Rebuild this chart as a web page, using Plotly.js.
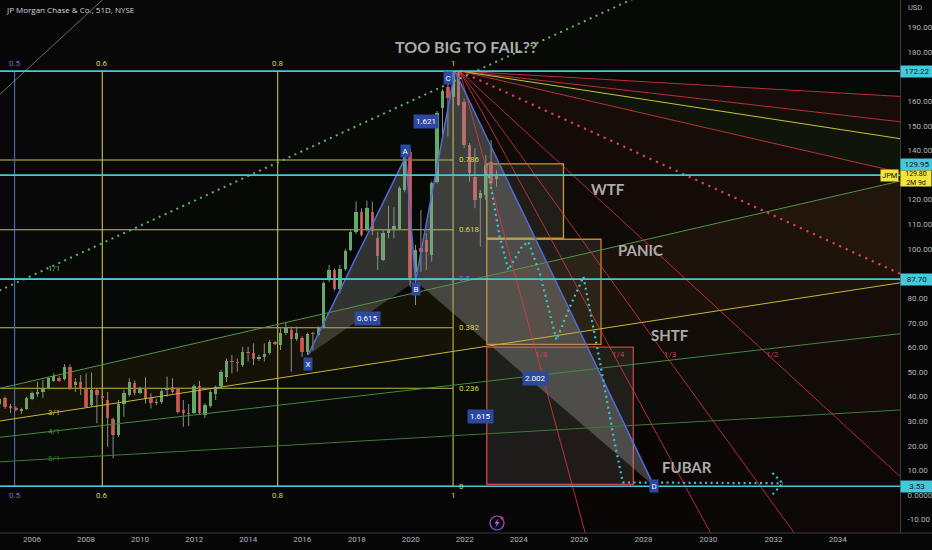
<!DOCTYPE html>
<html><head><meta charset="utf-8">
<script src="https://cdn.plot.ly/plotly-3.0.1.min.js"></script>
<style>html,body{margin:0;padding:0;background:#060606;}#chart{width:932px;height:550px;}</style>
</head><body><div id="chart"></div>
<script>
// ---- candle data (bar index, 51D bars) ----
const candleOpen  = [37.0,39.4,36.0,35.5,34.2,34.9,39.0,40.9,41.9,43.6,46.4,47.7,47.0,52.1,44.7,45.9,43.1,36.6,42.7,40.4,38.6,30.9,24.4,36.8,40.6,45.6,41.5,43.4,39.3,37.3,37.7,42.7,43.8,42.9,34.5,33.4,33.4,44.3,32.5,36.2,40.9,44.3,48.1,54.6,54.2,52.8,58.2,57.6,55.1,55.9,57.8,62.0,60.9,65.7,67.0,63.3,63.7,58.2,65.7,65.0,68.4,87.3,91.4,83.6,91.7,99.5,106.9,115.1,107.7,115.1,104.3,95.5,106.5,108.1,108.1,123.9,139.5,90.7,100.2,103.6,97.5,127.3,157.1,165.9,161.8,172.0,159.8,142.2,129.3,120.5,121.9,135.4,128.4];
const candleHigh  = [39.5,40.0,37.0,36.0,35.5,40.0,42.0,46.0,46.7,48.0,49.4,48.2,53.2,53.0,47.4,48.7,49.4,49.8,43.5,42.7,41.9,31.5,38.6,42.7,47.4,46.5,44.0,47.8,41.3,39.0,43.0,48.1,47.4,43.5,38.6,37.0,45.0,46.3,37.2,42.8,44.5,50.8,55.5,56.9,55.5,60.2,60.2,61.6,57.0,61.6,63.0,62.5,67.7,70.4,68.4,68.4,64.5,66.0,66.3,68.5,86.8,93.4,92.0,93.4,100.0,107.5,119.2,116.5,119.6,119.2,107.0,108.0,117.4,116.9,125.5,139.0,141.0,101.6,115.8,106.3,127.5,156.0,165.0,167.2,171.8,172.22,161.0,143.0,140.9,123.9,138.1,144.2,132.0];
const candleLow   = [36.5,35.0,33.3,34.0,32.9,34.5,38.5,39.9,39.4,43.0,46.0,46.0,46.5,42.7,41.9,40.6,35.5,36.0,29.1,38.5,19.6,14.9,23.5,31.8,40.0,40.5,41.0,37.2,35.2,36.5,37.0,39.9,41.5,33.0,27.7,28.0,33.0,32.5,31.2,35.5,38.6,43.5,45.9,49.4,50.1,52.0,54.2,52.8,54.5,54.2,57.0,60.8,58.9,65.0,50.1,62.5,56.2,56.9,58.9,64.5,67.8,86.5,83.0,81.9,91.0,99.0,106.0,105.0,107.0,105.6,91.4,95.0,104.3,104.3,107.5,123.0,84.6,77.2,90.7,91.4,94.8,126.5,146.3,145.6,160.0,158.0,141.0,127.3,116.5,100.9,120.0,125.9,125.2];
const candleClose = [39.0,35.7,35.3,34.5,34.9,39.5,41.4,41.9,43.6,47.5,48.5,46.4,52.1,43.6,45.9,43.6,35.9,42.7,40.6,39.3,31.2,24.4,36.8,41.3,45.8,41.3,43.4,38.9,37.3,37.9,42.3,43.4,42.0,33.8,33.2,32.9,44.3,33.2,36.6,42.0,43.8,50.1,54.4,54.0,53.5,58.2,57.6,55.3,55.9,57.3,62.3,61.3,65.7,67.7,63.3,65.9,58.2,65.3,65.3,68.0,86.0,91.4,83.6,91.7,99.2,106.9,115.1,105.6,116.5,107.4,97.1,106.5,107.9,109.3,124.6,138.1,88.0,99.5,98.8,98.8,126.7,155.1,164.1,161.2,171.3,158.4,142.2,130.7,119.8,122.6,134.1,126.6,129.8];

// ---- axis ticks ----
const yearTickIdx = [6,16,26,36.04,46.04,56.04,66.1,76.1,86.1,96.1,107.3,119.2,131.2,143.3,155.2];
const yearLabels  = ['2006','2008','2010','2012','2014','2016','2018','2020','2022','2024','2026','2028','2030','2032','2034'];
const priceTicks  = [-10,0,10,20,30,40,50,60,70,80,100,110,120,140,150,160,180,190];

// ---- horizontal price levels ----
const hLevels = [172.22,129.95,87.70,3.53];
const hLabels = ['172.22','129.95','87.70','3.53'];
const hLabelShift = [0,11,0,0];
const lastPrice = 129.80;

// ---- fib retracement / fib time ----
const fibLow = 3.53, fibHigh = 172.22;
const fibLevels = [0.786,0.618,0.5,0.382,0.236,0];
const fibLabels = ['0.786','0.618','0.5','0.382','0.236','0'];
const fibTimeStart = -78.44, fibTimeSpan = 162.4;
const fibTimeLevels = [0.5,0.6,0.8,1];
const fibTimeLabels = ['0.5','0.6','0.8','1'];

// ---- XABCD ----
const xabcdNames = ['X','A','B','C','D'];
const xabcdIdx   = [57.1,75.2,77.0,84.3,121.2];
const xabcdPrice = [56.9,137.5,86.9,172.22,3.53];
const ratioPairs = [[0,2],[1,3],[2,4],[0,4]];
const ratioTexts = ['0.615','1.621','2.002','1.615'];

// ---- gann fans ----
const gannUnit = 1.01; // price per bar for 1/1
const fan1Origin = [-78.8, 3.53];
const fan1Ratios = [2,1,0.5,1/3,0.25,0.125];
const fan1Names  = ['1/2','1/1','2/1','3/1','4/1','8/1'];
const fan2Origin = [85.2, 172.22];
const fan2Ratios = [0.125,0.25,1/3,0.5,1,2,3,4,8];
const fan2Names  = ['8/1','4/1','3/1','2/1','1/1','1/2','1/3','1/4','1/8'];

// ---- boxes ----
const boxNames = ['WTF','PANIC','SHTF'];
const boxI0 = [90.2,90.2,90.2];
const boxI1 = [104.4,111.35,117.33];
const boxTop = [134.5,103.9,60.1];
const boxBot = [104.3,61.2,4.35];
const boxColors = ['#c9b23a','#d8922e','#d84848'];
const noteTexts = ['WTF','PANIC','SHTF','FUBAR','TOO BIG TO FAIL??'];
const noteIdx   = [112.65,118.7,124.1,127.3,86.35];
const notePrice = [124.3,99.5,65.0,11.25,182.2];

// ---- projection path ----
const projIdx   = [90.6,92.6,94.2,96.7,97.9,100.1,103.1,105.6,108.1,111.2,113.9,115.4,145.0];
const projPrice = [129.6,104.9,91.4,100.9,102.9,89.4,63.0,76.5,88.7,53.5,21.0,5.1,4.75];

const X_RANGE = [0.056,166.72], Y_RANGE = [-15.44,201.1];
const FAR = 600;
const traces = [];
const shapes = [];
const ann = [];
const F = 'Roboto, sans-serif';

// fan fills
function fanLine(origin, r, dir, i){ return origin[1] + dir*gannUnit*r*(i-origin[0]); }
const fan1Fill = ['rgba(120,150,90,0.02)','rgba(70,110,40,0.035)','rgba(130,105,25,0.12)','rgba(70,90,30,0.08)','rgba(40,80,35,0.07)'];
for(let s=0;s<fan1Ratios.length-1;s++){
  traces.push({type:'scatter',mode:'none',fill:'toself',fillcolor:fan1Fill[s],hoverinfo:'skip',
    x:[fan1Origin[0],FAR,FAR],y:[fan1Origin[1],fanLine(fan1Origin,fan1Ratios[s],1,FAR),fanLine(fan1Origin,fan1Ratios[s+1],1,FAR)]});
}
const fan2Fill = ['rgba(190,40,50,0.09)','rgba(120,100,20,0.09)','rgba(70,100,30,0.15)','rgba(130,50,30,0.12)','rgba(120,30,30,0.10)','rgba(100,25,25,0.09)','rgba(90,20,20,0.08)','rgba(80,20,20,0.07)'];
for(let s=0;s<fan2Ratios.length-1;s++){
  traces.push({type:'scatter',mode:'none',fill:'toself',fillcolor:fan2Fill[s],hoverinfo:'skip',
    x:[fan2Origin[0],FAR,FAR],y:[fan2Origin[1],fanLine(fan2Origin,fan2Ratios[s],-1,FAR),fanLine(fan2Origin,fan2Ratios[s+1],-1,FAR)]});
}

// XABCD triangles
traces.push({type:'scatter',mode:'none',fill:'toself',fillcolor:'rgba(150,150,150,0.30)',hoverinfo:'skip',
  x:[xabcdIdx[0],xabcdIdx[1],xabcdIdx[2]],y:[xabcdPrice[0],xabcdPrice[1],xabcdPrice[2]]});
traces.push({type:'scatter',mode:'none',fill:'toself',fillcolor:'rgba(160,160,160,0.36)',hoverinfo:'skip',
  x:[xabcdIdx[2],xabcdIdx[3],xabcdIdx[4]],y:[xabcdPrice[2],xabcdPrice[3],xabcdPrice[4]]});

// candles
const idx = candleOpen.map((_,i)=>i);
const wx=[], wy=[];
idx.forEach(i=>{wx.push(i,i,null);wy.push(candleLow[i],candleHigh[i],null);});
traces.push({type:'scatter',mode:'lines',x:wx,y:wy,line:{color:'#8d8d8d',width:1},hoverinfo:'skip'});
traces.push({type:'bar',x:idx,base:idx.map(i=>Math.min(candleOpen[i],candleClose[i])),
  y:idx.map(i=>Math.max(Math.abs(candleClose[i]-candleOpen[i]),0.4)),width:0.66,
  marker:{color:idx.map(i=>candleClose[i]>=candleOpen[i]?'#56b95b':'#e23a3a'),line:{width:0}},hoverinfo:'skip'});

// fan lines
const fan1Colors = ['rgba(165,185,150,0.6)','#5dbb5a','#4f9745','#c8b63a','#3f8a40','#3b7b36'];
fan1Ratios.forEach((r,k)=>{
  traces.push({type:'scatter',mode:'lines',hoverinfo:'skip',x:[fan1Origin[0],FAR],y:[fan1Origin[1],fanLine(fan1Origin,r,1,FAR)],
    line:{color:fan1Colors[k],width:r===1?2:1,dash:r===1?'2px,4.5px':'solid'}});
  if(k>=1 && k!==2){
    const li = 10.1;
    ann.push({x:li,y:fanLine(fan1Origin,r,1,li),text:fan1Names[k],showarrow:false,yshift:r===1?-3:0,
      font:{family:F,size:8,color:fan1Colors[k]}});
  }
});
fan2Ratios.forEach((r,k)=>{
  const col = r===1/3?'#c8c03e':(r===1?'#e0404f':'rgba(225,55,70,0.8)');
  traces.push({type:'scatter',mode:'lines',hoverinfo:'skip',x:[fan2Origin[0],FAR],y:[fan2Origin[1],fanLine(fan2Origin,r,-1,FAR)],
    line:{color:col,width:r===1?2.2:1,dash:r===1?'2.2px,5px':'solid'}});
  if(r>1){
    const p = 57; const li = fan2Origin[0] + (fan2Origin[1]-p)/(gannUnit*r);
    ann.push({x:li,y:p,text:fan2Names[k],showarrow:false,xshift:5,font:{family:F,size:8,color:'rgba(220,70,80,0.9)'}});
  }
});

// XABCD lines
traces.push({type:'scatter',mode:'lines',x:xabcdIdx,y:xabcdPrice,line:{color:'#4f6bd8',width:1.5},hoverinfo:'skip'});

// projection path
traces.push({type:'scatter',mode:'lines',x:projIdx,y:projPrice,line:{color:'#3cc3c8',width:2.2,dash:'2px,3.5px'},hoverinfo:'skip'});
const lastI = projIdx[projIdx.length-1], lastP = projPrice[projPrice.length-1];
traces.push({type:'scatter',mode:'lines',x:[lastI-1.9,lastI,lastI-1.9],y:[lastP+4.2,lastP,lastP-4.6],line:{color:'#3cc3c8',width:2.2,dash:'2px,3.5px'},hoverinfo:'skip'});

// boxes
boxNames.forEach((b,k)=>{
  shapes.push({type:'rect',xref:'x',yref:'y',x0:boxI0[k],x1:boxI1[k],y0:boxBot[k],y1:boxTop[k],layer:'below',
    line:{color:boxColors[k],width:1.3},fillcolor:'rgba(150,140,130,0.16)'});
});
// fib retracement lines
fibLevels.forEach((l,k)=>{
  const p = fibLow + l*(fibHigh-fibLow);
  shapes.push({type:'line',xref:'x',yref:'y',x0:X_RANGE[0],x1:fibTimeStart+fibTimeSpan,y0:p,y1:p,layer:'below',
    line:{color:l===0.5?'#5a7ad0':'#c9c548',width:1.1}});
  ann.push({x:fibTimeStart+fibTimeSpan,y:p,xanchor:'left',xshift:4,text:fibLabels[k],showarrow:false,
    font:{family:F,size:8,color:l===0.5?'#5a7ad0':'#dcd84c'}});
});
// fib time lines
fibTimeLevels.forEach((l,k)=>{
  const i = fibTimeStart + l*fibTimeSpan;
  const col = l===0.5?'#4f6fc8':'#c9c548';
  shapes.push({type:'line',xref:'x',yref:'y',x0:i,x1:i,y0:fibLow,y1:fibHigh,layer:'below',line:{color:col,width:1.1}});
  ann.push({x:i,y:fibHigh,yanchor:'bottom',yshift:1,text:fibTimeLabels[k],showarrow:false,font:{family:F,size:8,color:l===0.5?'#5a7ad0':'#dcd84c'}});
  ann.push({x:i,y:fibLow,yanchor:'top',yshift:-3,text:fibTimeLabels[k],showarrow:false,font:{family:F,size:8,color:l===0.5?'#5a7ad0':'#dcd84c'}});
});
// horizontal cyan levels
hLevels.forEach((p,k)=>{
  shapes.push({type:'line',xref:'paper',yref:'y',x0:0,x1:1,y0:p,y1:p,line:{color:'#45c8dc',width:1.6}});
});

// XABCD labels
const ptShift = [[0,-9],[0,6],[0,-8],[-7,-6.5],[0,0]];
xabcdNames.forEach((n,k)=>{
  ann.push({x:xabcdIdx[k],y:xabcdPrice[k],text:n,showarrow:false,xshift:ptShift[k][0],yshift:ptShift[k][1],
    bgcolor:'#2c48a0',borderpad:1.5,font:{family:F,size:8,color:'#ffffff'}});
});
const ratioShift = [[6,0],[-4,-8],[1,5.5],[-1,4.5]];
ratioPairs.forEach((pr,k)=>{
  ann.push({x:(xabcdIdx[pr[0]]+xabcdIdx[pr[1]])/2,y:(xabcdPrice[pr[0]]+xabcdPrice[pr[1]])/2,text:ratioTexts[k],showarrow:false,
    xshift:ratioShift[k][0],yshift:ratioShift[k][1],bgcolor:'#2c48a0',borderpad:2,font:{family:F,size:8,color:'#ffffff'}});
});

// notes
noteTexts.forEach((t,k)=>{
  ann.push({x:noteIdx[k],y:notePrice[k],text:'<b>'+t+'</b>',showarrow:false,
    font:{family:'Lato, sans-serif',size:k===4?16:15,color:'#ababab'}});
});

// right price labels
hLevels.forEach((p,k)=>{
  ann.push({xref:'paper',x:1,xanchor:'left',y:p,yshift:hLabelShift[k],text:hLabels[k],showarrow:false,width:30,height:9,
    bgcolor:'#45c8dc',borderpad:1,font:{family:F,size:8,color:'#101418'}});
});
ann.push({xref:'paper',x:1,xanchor:'left',y:lastPrice,yshift:-3,text:'129.80<br>2M 9d',showarrow:false,width:30,height:15,
  bgcolor:'#f3e33c',borderpad:0,font:{family:F,size:7,color:'#101418'}});
ann.push({xref:'paper',x:1,xanchor:'right',xshift:-1,y:lastPrice,text:'JPM',showarrow:false,
  bgcolor:'#f3e33c',borderpad:1,font:{family:F,size:7.5,color:'#101418'}});
ann.push({xref:'paper',yref:'paper',x:1,xanchor:'left',xshift:6,y:1-7/533,yanchor:'middle',text:'USD',showarrow:false,
  font:{family:F,size:7.5,color:'#b2b5be'}});
ann.push({xref:'paper',yref:'paper',x:4/900,xanchor:'left',y:1-9/533,yanchor:'middle',text:'JP Morgan Chase & Co., 51D, NYSE',showarrow:false,
  font:{family:'Open Sans, sans-serif',size:8,color:'#d1d4dc'}});

// lightning icon
const cx=497/900, cy=(533-523)/533, rx=7/900, ry=7/533;
shapes.push({type:'circle',xref:'paper',yref:'paper',x0:cx-rx,x1:cx+rx,y0:cy-ry,y1:cy+ry,line:{color:'#9b5ad6',width:1.2}});
const px=v=>v/900, py=v=>v/533;
shapes.push({type:'path',xref:'paper',yref:'paper',fillcolor:'#a868e0',line:{width:0},
  path:`M ${cx+px(1.8)} ${cy+py(5)} L ${cx-px(2.6)} ${cy-py(0.5)} L ${cx-px(0.2)} ${cy-py(0.5)} L ${cx-px(1.8)} ${cy-py(5)} L ${cx+px(2.6)} ${cy+py(1)} L ${cx+px(0.2)} ${cy+py(1)} Z`});
shapes.push({type:'circle',xref:'paper',yref:'paper',x0:cx+px(3.5),x1:cx+px(6.5),y0:cy+py(3.5),y1:cy+py(6.5),fillcolor:'#f23645',line:{width:0}});
shapes.push({type:'line',xref:'paper',yref:'paper',x0:0,x1:932/900,y0:0,y1:0,line:{color:'#3a3a3a',width:1}});

const layout = {
  width:932,height:550,margin:{l:0,r:32,t:0,b:17},
  paper_bgcolor:'#060606',plot_bgcolor:'#060606',showlegend:false,bargap:0,
  xaxis:{range:X_RANGE,tickvals:yearTickIdx,ticktext:yearLabels,showgrid:false,zeroline:false,showline:false,
    ticks:'',tickfont:{family:F,size:8,color:'#b2b5be'},fixedrange:true},
  yaxis:{range:Y_RANGE,side:'right',tickvals:priceTicks,ticktext:priceTicks.map(v=>v===0?'0.0000':v.toFixed(2)),
    showgrid:false,zeroline:false,showline:true,linecolor:'#3a3a3a',linewidth:1,ticks:'',ticklabelstandoff:5,
    tickfont:{family:F,size:8,color:'#b2b5be'},fixedrange:true},
  shapes:shapes,annotations:ann
};
Plotly.newPlot('chart',traces,layout,{staticPlot:true,displayModeBar:false});
</script></body></html>
